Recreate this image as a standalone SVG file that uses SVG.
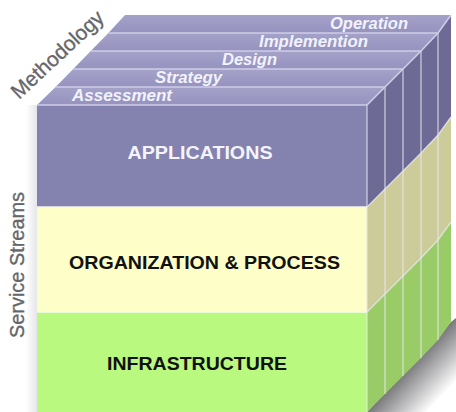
<svg xmlns="http://www.w3.org/2000/svg" width="456" height="412" viewBox="0 0 456 412">
<defs>
<linearGradient id="shadowGrad" gradientUnits="userSpaceOnUse" x1="410" y1="366" x2="442" y2="396">
<stop offset="0" stop-color="#78787c"/>
<stop offset="1" stop-color="#ffffff"/>
</linearGradient>
<linearGradient id="topGrad" x1="0" y1="0" x2="0" y2="1">
<stop offset="0" stop-color="#a4a2c8"/>
<stop offset="1" stop-color="#9593bf"/>
</linearGradient>
<linearGradient id="leftGlow" x1="0" y1="0" x2="1" y2="0">
<stop offset="0" stop-color="#ffffff"/>
<stop offset="1" stop-color="#e6e6ea"/>
</linearGradient>
</defs>
<style>
.slabtxt{font-family:"Liberation Sans",Arial,sans-serif;font-weight:bold;font-style:italic;font-size:16.5px;fill:#f2f2fc}
.main{font-family:"Liberation Sans",Arial,sans-serif;font-weight:bold;font-size:18.5px;text-anchor:middle}
.axis{font-family:"Liberation Sans",Arial,sans-serif;font-size:21px;fill:#66666a;stroke:#66666a;stroke-width:0.35}
.slabline{stroke:#cfcde6;stroke-width:1.6;fill:none}
.divline{stroke:#e8e8f0;stroke-opacity:0.75;stroke-width:1.3;fill:none}
</style>
<rect width="456" height="412" fill="#ffffff"/>
<rect x="26" y="105" width="11" height="307" fill="url(#leftGlow)"/>
<polygon points="367,412 451,322 456,318 456,412" fill="url(#shadowGrad)"/>

<g id="applications">
<rect x="37" y="105" width="330" height="102" fill="#8482ae"/>
<polygon points="367,105 385,87 403,69 421,51 438,33 451,15 451,117 438,135 421,153 403,171 385,189 367,207" fill="#6d6b95"/>
<text class="main" x="200" y="159" fill="#f4f4fc" textLength="145" lengthAdjust="spacingAndGlyphs">APPLICATIONS</text>
</g>
<g id="organization-process">
<rect x="37" y="207" width="330" height="105" fill="#fefec9"/>
<polygon points="367,207 385,189 403,171 421,153 438,135 451,117 451,222 438,240 421,258 403,276 385,294 367,312" fill="#cccc9a"/>
<text class="main" x="204.5" y="269" fill="#111111" textLength="271" lengthAdjust="spacingAndGlyphs">ORGANIZATION &amp; PROCESS</text>
</g>
<g id="infrastructure">
<rect x="37" y="312" width="330" height="100" fill="#b9f97f"/>
<polygon points="367,312 385,294 403,276 421,258 438,240 451,222 451,322 438,340 421,358 403,376 385,394 367,412" fill="#99cc66"/>
<text class="main" x="197" y="370" fill="#111111" textLength="180" lengthAdjust="spacingAndGlyphs">INFRASTRUCTURE</text>
</g>

<g id="layer-edges">
<line x1="37" y1="207" x2="367" y2="207" stroke="#f4f4f0" stroke-width="1.5"/>
<line x1="37" y1="312" x2="367" y2="312" stroke="#f6fbee" stroke-width="1.5"/>
<polyline class="divline" points="367,207 385,189 403,171 421,153 438,135 451,117"/>
<polyline class="divline" points="367,312 385,294 403,276 421,258 438,240 451,222"/>
<line class="divline" x1="367" y1="105" x2="367" y2="412"/>
<line class="divline" x1="385" y1="87" x2="385" y2="394"/>
<line class="divline" x1="403" y1="69" x2="403" y2="376"/>
<line class="divline" x1="421" y1="51" x2="421" y2="358"/>
<line class="divline" x1="438" y1="33" x2="438" y2="340"/>
</g>

<g id="operation">
<polygon points="108.4,33 125,15 451,15 438,33" fill="url(#topGrad)"/>
<text class="slabtxt" x="330" y="29" textLength="78" lengthAdjust="spacingAndGlyphs">Operation</text>
</g>
<g id="implementation">
<polygon points="90.8,51 108.4,33 438,33 421,51" fill="url(#topGrad)"/>
<text class="slabtxt" x="259" y="47" textLength="109" lengthAdjust="spacingAndGlyphs">Implemention</text>
</g>
<g id="design">
<polygon points="73.2,69 90.8,51 421,51 403,69" fill="url(#topGrad)"/>
<text class="slabtxt" x="222" y="65" textLength="55" lengthAdjust="spacingAndGlyphs">Design</text>
</g>
<g id="strategy">
<polygon points="55.6,87 73.2,69 403,69 385,87" fill="url(#topGrad)"/>
<text class="slabtxt" x="155" y="83" textLength="67" lengthAdjust="spacingAndGlyphs">Strategy</text>
</g>
<g id="assessment">
<polygon points="37,105 55.6,87 385,87 367,105" fill="url(#topGrad)"/>
<text class="slabtxt" x="72" y="101" textLength="100" lengthAdjust="spacingAndGlyphs">Assessment</text>
</g>
<g id="slab-lines">
<line class="slabline" x1="108.4" y1="33" x2="438" y2="33"/>
<line class="slabline" x1="90.8" y1="51" x2="421" y2="51"/>
<line class="slabline" x1="73.2" y1="69" x2="403" y2="69"/>
<line class="slabline" x1="55.6" y1="87" x2="385" y2="87"/>
<line class="slabline" x1="37" y1="105" x2="367" y2="105"/>
<polyline class="slabline" points="367,105 385,87 403,69 421,51 438,33 451,15"/>
</g>

<g id="methodology-label">
<text class="axis" transform="translate(19,100) rotate(-43)" textLength="118" lengthAdjust="spacingAndGlyphs">Methodology</text>
</g>
<g id="service-streams-label">
<text class="axis" transform="translate(24,338) rotate(-90)" textLength="146" lengthAdjust="spacingAndGlyphs">Service Streams</text>
</g>
</svg>
